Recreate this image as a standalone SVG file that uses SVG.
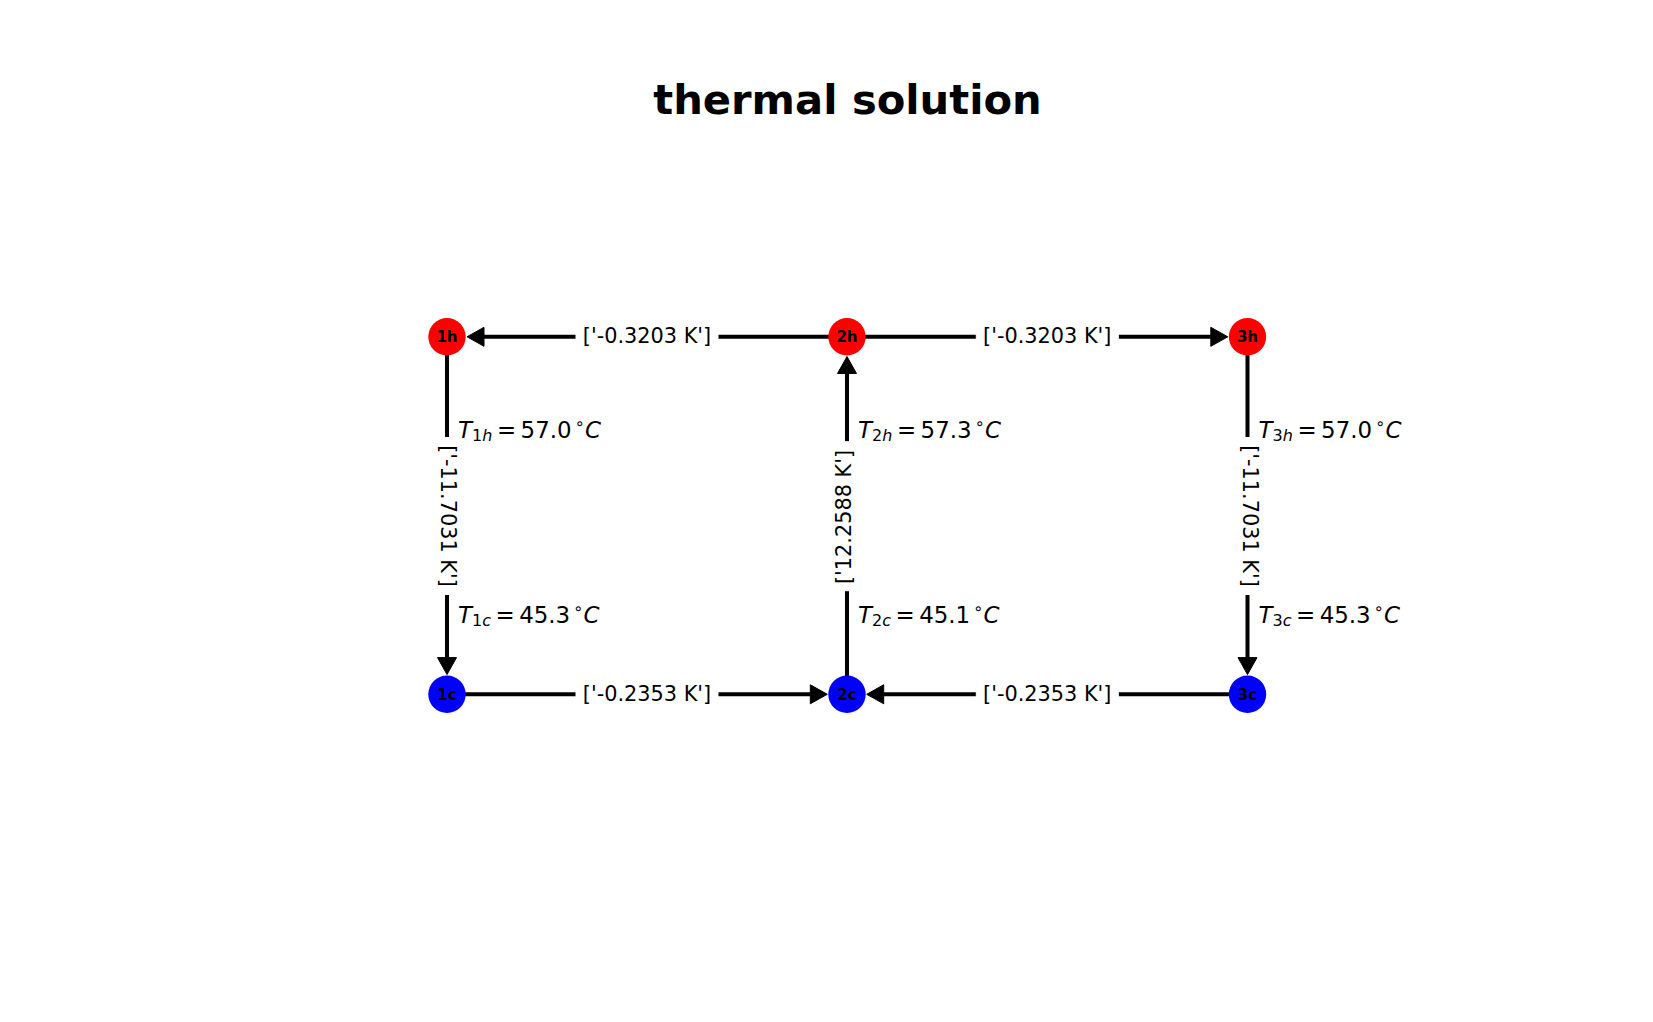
<svg xmlns="http://www.w3.org/2000/svg" width="1653" height="1022" viewBox="0 0 1653 1022">
<style>
.edge{stroke:#000;stroke-width:4;fill:none}
.head{fill:#000;stroke:#000;stroke-width:1;stroke-linejoin:miter}
.lblbox{fill:#fff;stroke:#fff}
.elbl{font-family:"DejaVu Sans","Liberation Sans",sans-serif;font-size:20.83px;fill:#000;text-anchor:middle}
.nlbl{font-family:"DejaVu Sans","Liberation Sans",sans-serif;font-size:15px;font-weight:bold;fill:#000;text-anchor:middle}
.hot{fill:#ff0000}
.cold{fill:#0000ff}
.tl{font-family:"DejaVu Sans","Liberation Sans",sans-serif;font-size:22.9px;fill:#000}
.it{font-style:oblique}
.sm{font-size:16px}
.title{font-family:"DejaVu Sans","Liberation Sans",sans-serif;font-size:41.67px;font-weight:bold;fill:#000;text-anchor:middle}
</style>
<rect width="1653" height="1022" fill="#fff"/>
<text class="title" x="847.5" y="114">thermal solution</text>
<g id="connectors">
  <line class="edge" x1="847" y1="336.8" x2="484" y2="336.8"/>
  <polygon class="head" points="467,336.8 484,327.3 484,346.3"/>
  <line class="edge" x1="847" y1="336.8" x2="1210.8" y2="336.8"/>
  <polygon class="head" points="1227.8,336.8 1210.8,327.3 1210.8,346.3"/>
  <line class="edge" x1="447" y1="694.3" x2="810.3" y2="694.3"/>
  <polygon class="head" points="827.3,694.3 810.3,684.8 810.3,703.8"/>
  <line class="edge" x1="1247.5" y1="694.3" x2="883.7" y2="694.3"/>
  <polygon class="head" points="866.7,694.3 883.7,684.8 883.7,703.8"/>
  <line class="edge" x1="447" y1="336.8" x2="447" y2="657.6"/>
  <polygon class="head" points="447,674.6 437.5,657.6 456.5,657.6"/>
  <line class="edge" x1="1247.5" y1="336.8" x2="1247.5" y2="657.6"/>
  <polygon class="head" points="1247.5,674.6 1238,657.6 1257,657.6"/>
  <line class="edge" x1="847" y1="694.3" x2="847" y2="373.5"/>
  <polygon class="head" points="847,356.5 837.5,373.5 856.5,373.5"/>
  <g id="edge-labels">
    <rect class="lblbox" x="576" y="318.8" width="142" height="36" rx="6"/>
    <text class="elbl" x="647" y="343">['-0.3203 K']</text>
    <rect class="lblbox" x="976.3" y="318.8" width="142" height="36" rx="6"/>
    <text class="elbl" x="1047.3" y="343">['-0.3203 K']</text>
    <rect class="lblbox" x="576" y="676.3" width="142" height="36" rx="6"/>
    <text class="elbl" x="647" y="700.5">['-0.2353 K']</text>
    <rect class="lblbox" x="976.3" y="676.3" width="142" height="36" rx="6"/>
    <text class="elbl" x="1047.3" y="700.5">['-0.2353 K']</text>
    <rect class="lblbox" x="429" y="437.5" width="36" height="157" rx="6"/>
    <text class="elbl" transform="translate(441,516) rotate(90)">['-11.7031 K']</text>
    <rect class="lblbox" x="829" y="441.7" width="36" height="149" rx="6"/>
    <text class="elbl" transform="translate(851,517) rotate(-90)">['12.2588 K']</text>
    <rect class="lblbox" x="1229.5" y="437.5" width="36" height="157" rx="6"/>
    <text class="elbl" transform="translate(1242.7,516) rotate(90)">['-11.7031 K']</text>
  </g>
</g>
<g id="node-1h"><circle class="hot" cx="447" cy="336.8" r="18.7"/><text class="nlbl" x="447" y="342.1">1h</text></g>
<g id="node-2h"><circle class="hot" cx="847" cy="336.8" r="18.7"/><text class="nlbl" x="847" y="342.1">2h</text></g>
<g id="node-3h"><circle class="hot" cx="1247.5" cy="336.8" r="18.7"/><text class="nlbl" x="1247.5" y="342.1">3h</text></g>
<g id="node-1c"><circle class="cold" cx="447" cy="694.3" r="18.7"/><text class="nlbl" x="447" y="699.6">1c</text></g>
<g id="node-2c"><circle class="cold" cx="847" cy="694.3" r="18.7"/><text class="nlbl" x="847" y="699.6">2c</text></g>
<g id="node-3c"><circle class="cold" cx="1247.5" cy="694.3" r="18.7"/><text class="nlbl" x="1247.5" y="699.6">3c</text></g>
<g id="temperatures">
  <g transform="translate(458,438.3)"><text class="tl"><tspan class="it" x="0" y="0">T</tspan><tspan class="sm" x="14" y="3">1</tspan><tspan class="sm it" x="24.2" y="3">h</tspan><tspan x="38.9" y="0">=</tspan><tspan x="62.6" y="0">57.0</tspan><tspan class="sm" x="116.5" y="-9">∘</tspan><tspan class="it" x="127" y="0">C</tspan></text></g>
  <g transform="translate(858,438.3)"><text class="tl"><tspan class="it" x="0" y="0">T</tspan><tspan class="sm" x="14" y="3">2</tspan><tspan class="sm it" x="24.2" y="3">h</tspan><tspan x="38.9" y="0">=</tspan><tspan x="62.6" y="0">57.3</tspan><tspan class="sm" x="116.5" y="-9">∘</tspan><tspan class="it" x="127" y="0">C</tspan></text></g>
  <g transform="translate(1258.5,438.3)"><text class="tl"><tspan class="it" x="0" y="0">T</tspan><tspan class="sm" x="14" y="3">3</tspan><tspan class="sm it" x="24.2" y="3">h</tspan><tspan x="38.9" y="0">=</tspan><tspan x="62.6" y="0">57.0</tspan><tspan class="sm" x="116.5" y="-9">∘</tspan><tspan class="it" x="127" y="0">C</tspan></text></g>
  <g transform="translate(458,623.3)"><text class="tl"><tspan class="it" x="0" y="0">T</tspan><tspan class="sm" x="14" y="3">1</tspan><tspan class="sm it" x="24.2" y="3">c</tspan><tspan x="37.5" y="0">=</tspan><tspan x="61.2" y="0">45.3</tspan><tspan class="sm" x="115" y="-9">∘</tspan><tspan class="it" x="125.6" y="0">C</tspan></text></g>
  <g transform="translate(858,623.3)"><text class="tl"><tspan class="it" x="0" y="0">T</tspan><tspan class="sm" x="14" y="3">2</tspan><tspan class="sm it" x="24.2" y="3">c</tspan><tspan x="37.5" y="0">=</tspan><tspan x="61.2" y="0">45.1</tspan><tspan class="sm" x="115" y="-9">∘</tspan><tspan class="it" x="125.6" y="0">C</tspan></text></g>
  <g transform="translate(1258.5,623.3)"><text class="tl"><tspan class="it" x="0" y="0">T</tspan><tspan class="sm" x="14" y="3">3</tspan><tspan class="sm it" x="24.2" y="3">c</tspan><tspan x="37.5" y="0">=</tspan><tspan x="61.2" y="0">45.3</tspan><tspan class="sm" x="115" y="-9">∘</tspan><tspan class="it" x="125.6" y="0">C</tspan></text></g>
</g>
</svg>
